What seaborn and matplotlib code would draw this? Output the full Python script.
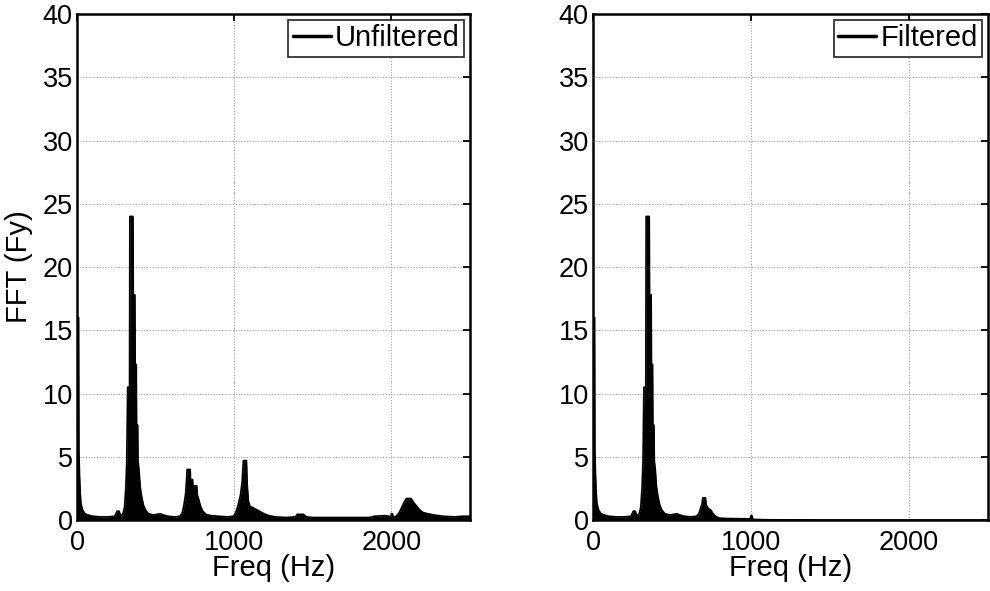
import matplotlib
matplotlib.use("Agg")
import matplotlib.pyplot as plt
import seaborn as sns
import pandas as pd

# ---- data (Hz, amplitude) ----
freq_unfiltered = [0, 10, 12, 16, 20, 25, 35, 50, 70, 100, 150, 200, 240, 255, 268, 278, 292, 302,
                   310, 316, 322, 334, 336, 356, 358, 368, 370, 377, 379, 386, 388, 394, 402, 412,
                   422, 435, 455, 485, 510, 530, 550, 580, 620, 655, 670, 680, 690, 697, 700, 720,
                   722, 735, 738, 762, 765, 775, 785, 800, 820, 850, 900, 960, 995, 1010, 1025,
                   1040, 1050, 1058, 1078, 1082, 1090, 1100, 1130, 1160, 1190, 1220, 1260, 1330,
                   1390, 1400, 1440, 1460, 1500, 1600, 1750, 1860, 1890, 1960, 1985, 1995, 2000,
                   2006, 2012, 2030, 2050, 2065, 2080, 2095, 2125, 2140, 2160, 2180, 2200, 2230,
                   2270, 2330, 2400, 2450, 2500]
amp_unfiltered = [16.0, 16.0, 5.5, 3.5, 2.2, 1.3, 0.8, 0.5, 0.4, 0.3, 0.25, 0.25, 0.3, 0.7, 0.7, 0.3,
                  0.5, 1.0, 2.5, 4.5, 10.5, 10.5, 24.0, 24.0, 17.8, 17.8, 12.3, 12.3, 7.5, 7.5, 4.7,
                  4.0, 2.6, 1.8, 1.2, 0.8, 0.5, 0.4, 0.45, 0.5, 0.4, 0.3, 0.25, 0.3, 0.6, 1.2, 2.0,
                  3.2, 4.0, 4.0, 3.2, 3.2, 2.7, 2.7, 2.0, 1.6, 1.1, 0.7, 0.45, 0.35, 0.3, 0.25, 0.3,
                  0.6, 1.2, 2.0, 3.0, 4.7, 4.7, 2.9, 1.5, 1.1, 0.9, 0.7, 0.5, 0.35, 0.25, 0.2, 0.25,
                  0.45, 0.45, 0.25, 0.2, 0.2, 0.2, 0.2, 0.3, 0.35, 0.3, 0.2, 0.5, 0.5, 0.2, 0.3, 0.6,
                  1.0, 1.4, 1.7, 1.7, 1.4, 1.1, 0.8, 0.6, 0.5, 0.4, 0.3, 0.25, 0.3, 0.3]

freq_filtered = [0, 10, 12, 16, 20, 25, 35, 50, 70, 100, 150, 200, 240, 255, 268, 278, 292, 302,
                 310, 316, 322, 334, 336, 356, 358, 368, 370, 377, 379, 386, 388, 394, 402, 412,
                 422, 435, 455, 485, 510, 530, 550, 580, 620, 655, 670, 680, 690, 695, 712, 716,
                 730, 745, 760, 775, 800, 850, 950, 995, 1000, 1006, 1012, 1100, 1500, 2000, 2500]
amp_filtered = [16.0, 16.0, 5.5, 3.5, 2.2, 1.3, 0.8, 0.5, 0.4, 0.3, 0.25, 0.25, 0.3, 0.7, 0.7, 0.3,
                0.5, 1.0, 2.5, 4.5, 10.5, 10.5, 24.0, 24.0, 17.8, 17.8, 12.3, 12.3, 7.5, 7.5, 4.7,
                4.0, 2.6, 1.8, 1.2, 0.8, 0.5, 0.4, 0.45, 0.5, 0.4, 0.3, 0.25, 0.3, 0.5, 0.9, 1.3,
                1.75, 1.75, 1.2, 0.9, 0.8, 0.5, 0.3, 0.15, 0.12, 0.1, 0.1, 0.35, 0.35, 0.05, 0.02,
                0.0, 0.0, 0.0]

x_ticks = [0, 1000, 2000]
y_ticks = [0, 5, 10, 15, 20, 25, 30, 35, 40]
labels = ["Unfiltered", "Filtered"]

sns.set_theme(style="white")
plt.rcParams['font.family'] = ['Liberation Sans', 'DejaVu Sans']
plt.rcParams['text.color'] = 'black'
plt.rcParams['axes.labelcolor'] = 'black'

fig = plt.figure(figsize=(9.9, 5.91), dpi=100)
axes = [fig.add_axes([0.0778, 0.1201, 0.3970, 0.8562]),
        fig.add_axes([0.5990, 0.1201, 0.3990, 0.8562])]

series = [(freq_unfiltered, amp_unfiltered), (freq_filtered, amp_filtered)]
for ax, (f, a), lab in zip(axes, series, labels):
    df = pd.DataFrame({"Freq": f, "Amp": a})
    ax.fill_between(df["Freq"], 0, df["Amp"], color="black", linewidth=0)
    sns.lineplot(data=df, x="Freq", y="Amp", ax=ax, color="black", linewidth=1.2,
                 estimator=None, sort=False, label=lab)
    ax.set_xlim(0, 2500)
    ax.set_ylim(0, 40)
    ax.set_xticks(x_ticks)
    ax.set_yticks(y_ticks)
    ax.set_xlabel("Freq (Hz)", fontsize=21, labelpad=-1, color="black")
    ax.set_ylabel("")
    ax.grid(True, color="#a0a0a0", linestyle=(0, (1, 1.5)), linewidth=0.8)
    ax.tick_params(direction="in", length=5, width=1.3, colors="black", labelsize=19.5,
                   top=True, right=True)
    ax.tick_params(axis="x", pad=7)
    ax.tick_params(axis="y", pad=3)
    for s in ax.spines.values():
        s.set_visible(True)
        s.set_color("black")
        s.set_linewidth(1.8)
    leg = ax.legend(loc="upper right", fontsize=21, frameon=True, fancybox=False,
                    handlelength=1.3, handletextpad=0.15, borderpad=0.15,
                    borderaxespad=0.2, edgecolor="black", labelcolor="black")
    leg.get_frame().set_linewidth(1.3)
    for line in leg.get_lines():
        line.set_linewidth(2.5)

axes[0].set_ylabel("FFT (Fy)", fontsize=21, labelpad=7, color="black")

fig.savefig("out.png", dpi=100, facecolor="white")
